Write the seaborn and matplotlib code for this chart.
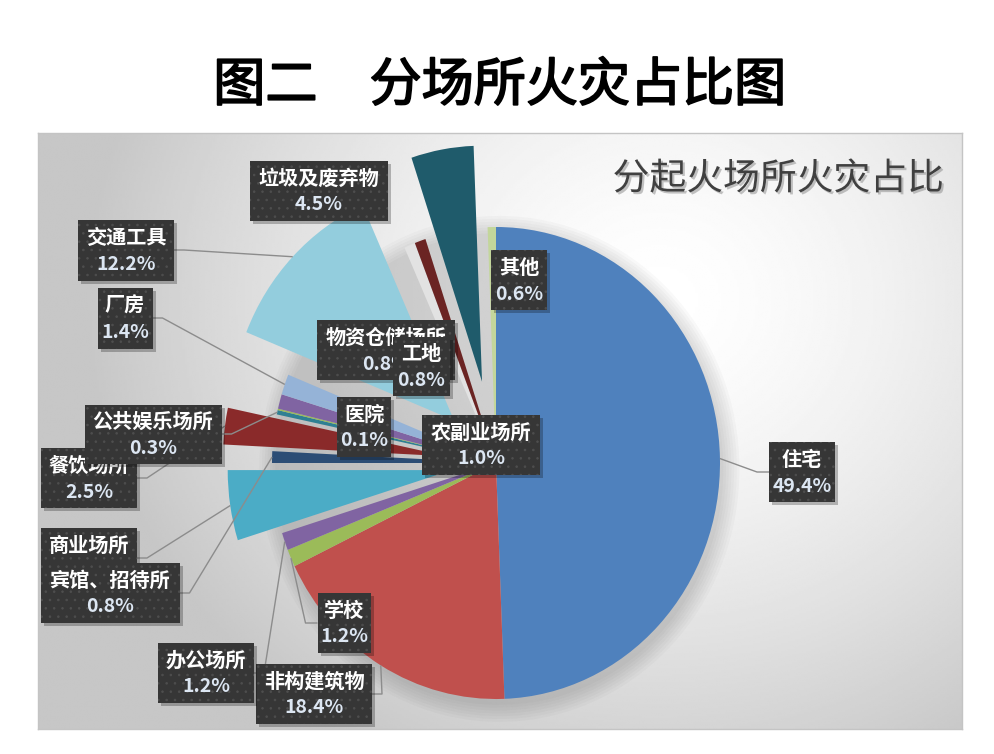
import numpy as np
import matplotlib
matplotlib.use("Agg")
import matplotlib.pyplot as plt
import matplotlib.patheffects as pe
from matplotlib.patches import Rectangle, Circle
import seaborn as sns

# 起火场所及占比(%)，按饼图顺时针顺序（从12点钟方向开始）
places = ["住宅", "非构建筑物", "学校", "办公场所", "商业场所", "宾馆、招待所",
          "餐饮场所", "公共娱乐场所", "医院", "农副业场所", "厂房", "交通工具",
          "物资仓储场所", "工地", "垃圾及废弃物", "其他"]
shares = [49.4, 18.4, 1.2, 1.2, 4.8, 0.8, 2.5, 0.3, 0.1, 1.0, 1.4, 12.2,
          0.8, 0.8, 4.5, 0.6]
value_labels = [f"{v:.1f}%" for v in shares]

# 样式：颜色与分离程度
slice_colors = ["#4F81BD", "#C0504D", "#9BBB59", "#8064A2", "#4BACC6", "#2C4D75",
                "#8A2A2A", "#2E7F93", "#9BBB59", "#8064A2", "#95B3D7", "#93CDDD",
                "#E2E2E2", "#6B2423", "#1F5B6B", "#C3D69B"]
explode = [0, 0, 0, 0, 0.2, 0, 0.22, 0, 0, 0, 0, 0.26, 0, 0, 0.35, 0]

# 数据标签框位置(像素：中心x, 中心y, 宽, 高) 与引导线方向
label_boxes = [(802, 472, 66, 60), (314, 694, 116, 60), (344, 623, 53, 60),
               (206, 673, 96, 60), (89, 558, 96, 60), (110, 593, 139, 60),
               (89, 478, 96, 60), (153, 434, 137, 59), (364, 427, 54, 60),
               (481, 445, 118, 60), (125, 318, 55, 61), (126, 250, 96, 61),
               (386, 350, 138, 60), (421, 366, 57, 59), (319, 191, 138, 60),
               (519, 280, 56, 60)]
leader_side = ["L", "R", "L", "R", "R", "R", "R", "R", None, None, "R", "R",
               None, None, None, None]

sns.set_theme(style="white")
plt.rcParams['font.family'] = ['Noto Sans CJK SC', 'DejaVu Sans']
plt.rcParams['hatch.linewidth'] = 0.6
palette = sns.color_palette(slice_colors)

W, H = 994, 754
CX, CY, SX, SY = 496, 463, 224, 236   # 饼图圆心和半径(像素)
L, R, T, B = 38, 962, 133, 729        # 图表区


def to_data(x, y):
    return (x - CX) / SX, (CY - y) / SY


fig = plt.figure(figsize=(W / 100, H / 100), dpi=100)
fig.patch.set_facecolor("white")
ax = fig.add_axes([L / W, 1 - B / H, (R - L) / W, (B - T) / H])

# 背景渐变
xs = np.linspace(L, R, 400)
ys = np.linspace(T, B, 300)
X, Y = np.meshgrid(xs, ys)
d = np.sqrt(((X - 660) / 520) ** 2 + ((Y - 300) / 470) ** 2)
g = np.clip(1 - 0.19 * d ** 1.5, 0.78, 1)
x0, y1 = to_data(L, T)
x1, y0 = to_data(R, B)
ax.imshow(g, cmap="gray", vmin=0, vmax=1, extent=(x0, x1, y0, y1),
          origin="upper", aspect="auto", zorder=0, interpolation="bilinear")

# 饼图阴影
for k in range(7):
    ax.add_patch(Circle((0.015, -0.025), 1.0 + 0.012 * k, color="k",
                        alpha=0.022, lw=0, zorder=1))

wedges, _ = ax.pie(shares, colors=palette, startangle=90, counterclock=False,
                   explode=explode, wedgeprops=dict(linewidth=0))
for w in wedges:
    w.set_zorder(2)

ax.set_aspect("auto")
ax.set_xlim(x0, x1)
ax.set_ylim(y0, y1)
ax.set_frame_on(True)
for s in ax.spines.values():
    s.set_color("#C4C4C4")
    s.set_linewidth(1)
ax.set_xticks([])
ax.set_yticks([])

# 引导线
for i, side in enumerate(leader_side):
    if side is None:
        continue
    bx, by, bw, bh = label_boxes[i]
    w = wedges[i]
    th = np.deg2rad((w.theta1 + w.theta2) / 2)
    ax_, ay_ = w.center[0] + w.r * np.cos(th), w.center[1] + w.r * np.sin(th)
    if side == "L":
        p0 = (bx - bw / 2, by)
        p1 = (bx - bw / 2 - 12, by)
    else:
        p0 = (bx + bw / 2, by)
        p1 = (bx + bw / 2 + 10, by)
    d0, d1 = to_data(*p0), to_data(*p1)
    ax.plot([d0[0], d1[0], ax_], [d0[1], d1[1], ay_], color="#8C8C8C",
            lw=1, zorder=3, solid_capstyle="butt")

# 数据标签
for i, (name, val) in enumerate(zip(places, value_labels)):
    bx, by, bw, bh = label_boxes[i]
    z = 4 + i * 0.01
    lx, ty = to_data(bx - bw / 2, by - bh / 2)
    ax.add_patch(Rectangle((lx + 3 / SX, ty - bh / SY - 3 / SY), bw / SX, bh / SY,
                           facecolor="black", alpha=0.25, lw=0, zorder=z))
    ax.add_patch(Rectangle((lx, ty - bh / SY), bw / SX, bh / SY,
                           facecolor="#363636", edgecolor="#4E4E4E", hatch="..",
                           lw=0, zorder=z + 0.001))
    nx, ny = to_data(bx, by - 13)
    vx, vy = to_data(bx, by + 14)
    ax.text(nx, ny, name, ha="center", va="center", fontsize=14.5,
            weight="bold", color="white", zorder=z + 0.002)
    ax.text(vx, vy, val, ha="center", va="center", fontsize=14,
            weight="bold", color="#DCE6F2", zorder=z + 0.002)

# 图表内标题
tx, ty = to_data(778, 179)
ax.text(tx, ty, "分起火场所火灾占比", ha="center", va="center", fontsize=26.5,
        color="#404040", zorder=5,
        path_effects=[pe.SimplePatchShadow(offset=(1.5, -1.5), shadow_rgbFace="#888888",
                                           alpha=0.5), pe.Normal()])

fig.text(0.503, 1 - 86 / H, "图二　分场所火灾占比图", ha="center", va="center",
         fontsize=37.5, color="black",
         path_effects=[pe.withStroke(linewidth=1.3, foreground="black")])

fig.savefig("out.png", dpi=100)
